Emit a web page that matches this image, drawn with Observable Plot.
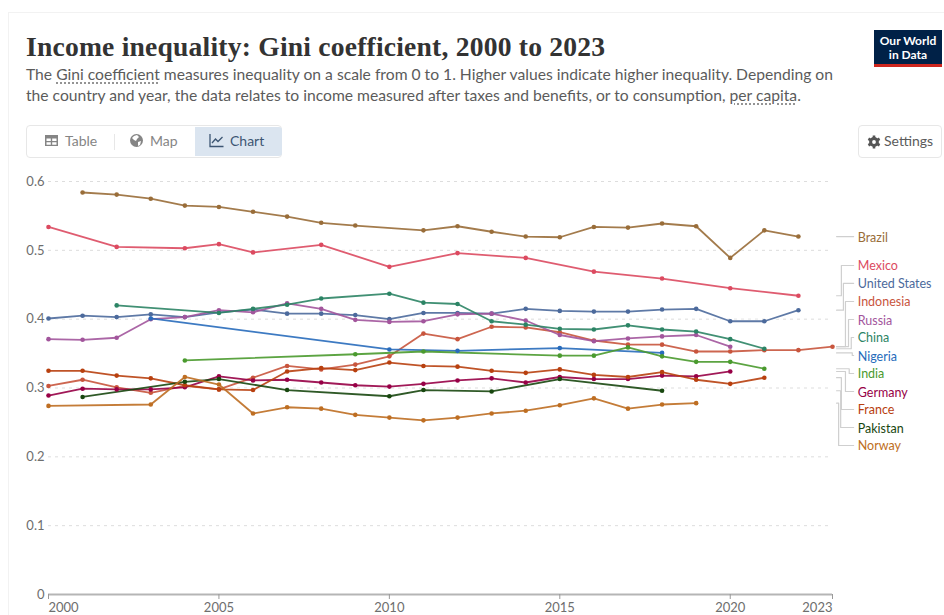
<!DOCTYPE html>
<html>
<head>
<meta charset="utf-8">
<script src="https://cdn.jsdelivr.net/npm/d3@7"></script>
<script src="https://cdn.jsdelivr.net/npm/@observablehq/plot@0.6"></script>
<style>
html,body{margin:0;padding:0;background:#fff;width:944px;height:615px;overflow:hidden;font-family:Lato,sans-serif}
#frame{position:absolute;left:8px;top:12px;width:936px;height:603px;border-top:1px solid #f2f2f2;border-left:1px solid #f2f2f2;box-sizing:border-box}
#title{position:absolute;left:26px;top:31px;font:bold 27.6px "Liberation Serif",serif;color:#333;white-space:nowrap;letter-spacing:.2px}
#sub{position:absolute;left:26px;top:64px;font-size:15.66px;line-height:21px;color:#5b5b5b;white-space:nowrap}
#sub u{text-decoration:underline dotted #777;text-underline-offset:3px}
#logo{position:absolute;left:874px;top:30px;width:68px;height:37px;background:#002147;border-bottom:3px solid #ce261e;box-sizing:border-box;color:#fff;font-size:12px;font-weight:700;line-height:13.5px;text-align:center;padding-top:4px}
#tabs{position:absolute;left:26px;top:125px;width:256px;height:33px;border:1px solid #e7e7e7;border-radius:4px;box-sizing:border-box}
#active{position:absolute;left:168px;top:1px;width:87px;height:29px;background:#dbe5f0;border-radius:0 3px 3px 0}
#sep{position:absolute;left:87px;top:8px;width:1px;height:16px;background:#e7e7e7}
.tab{position:absolute;top:0;line-height:29px;font-size:14px;color:#858585;white-space:nowrap}
.tab svg,#settings svg{position:absolute;top:7px;left:-21px}
#settings{position:absolute;left:858px;top:125px;width:84px;height:33px;border:1px solid #e7e7e7;border-radius:4px;box-sizing:border-box;font-size:14px;line-height:29px;color:#5b5b5b}
#settings span{position:absolute;left:25px}
#settings svg{left:8px;top:9px}
#chart{position:absolute;left:0;top:170px;width:944px;height:445px}
#chart svg{overflow:visible;display:block}
</style>
</head>
<body>
<div id="frame"></div>
<div id="title">Income inequality: Gini coefficient, 2000 to 2023</div>
<div id="sub">The <u>Gini coefficient</u> measures inequality on a scale from 0 to 1. Higher values indicate higher inequality. Depending on<br>the country and year, the data relates to income measured after taxes and benefits, or to consumption, <u>per capita</u>.</div>
<div id="logo">Our World<br>in Data</div>
<div id="tabs">
  <div id="active"></div><div id="sep"></div>
  <div class="tab" style="left:38px"><svg width="15" height="15" viewBox="0 0 15 15"><path fill="#858585" d="M1 2h13v11H1zM2.500 5.500v2.500h4.300V5.500zm5.700 0v2.500h4.300V5.500zM2.500 9.300v2.400h4.300V9.300zm5.700 0v2.400h4.300V9.300z" fill-rule="evenodd"/></svg>Table</div>
  <div class="tab" style="left:123px"><svg width="15" height="15" viewBox="0 0 15 15"><circle cx="7.500" cy="7.500" r="6.500" fill="#858585"/><path fill="#fff" d="M5 3l3-1 2 2-2 2-1 2-2-1-2-2zM9 9l3-1-1 4-2 1z"/></svg>Map</div>
  <div class="tab" style="left:203px;color:#3d5673"><svg width="15" height="15" viewBox="0 0 15 15"><path fill="none" stroke="#3d5673" stroke-width="1.300" d="M1 1v12.500h13.500M3 10l3.500-4 2.500 2.500L13.500 4"/></svg>Chart</div>
</div>
<div id="settings"><svg width="14" height="14" viewBox="0 0 14 14"><circle cx="7" cy="7" r="3.400" fill="none" stroke="#555" stroke-width="3"/><path stroke="#555" stroke-width="2.600" d="M7 .5v2.500M7 11v2.500M1.400 3.750l2.200 1.250M10.400 9l2.200 1.250M1.400 10.250l2.200-1.250M10.400 5l2.200-1.250"/></svg><span>Settings</span></div>
<div id="chart"></div>
<script>
const brazilYears = [2001,2002,2003,2004,2005,2006,2007,2008,2009,2011,2012,2013,2014,2015,2016,2017,2018,2019,2020,2021,2022];
const brazilGini = [.584,.581,.575,.565,.563,.556,.549,.540,.536,.529,.535,.527,.520,.519,.534,.533,.539,.535,.489,.529,.520];
const mexicoYears = [2000,2002,2004,2005,2006,2008,2010,2012,2014,2016,2018,2020,2022];
const mexicoGini = [.534,.505,.503,.509,.497,.508,.476,.496,.489,.469,.459,.445,.434];
const usYears = [2000,2001,2002,2003,2004,2005,2006,2007,2008,2009,2010,2011,2012,2013,2014,2015,2016,2017,2018,2019,2020,2021,2022];
const usGini = [.401,.405,.403,.407,.403,.410,.414,.408,.408,.406,.400,.409,.409,.408,.415,.412,.411,.411,.414,.415,.397,.397,.413];
const indonesiaYears = [2000,2001,2002,2003,2004,2005,2006,2007,2008,2009,2010,2011,2012,2013,2014,2015,2016,2017,2018,2019,2020,2021,2022,2023];
const indonesiaGini = [.303,.312,.301,.293,.303,.298,.315,.332,.327,.334,.346,.379,.371,.389,.388,.381,.369,.363,.363,.353,.353,.355,.355,.360];
const russiaYears = [2000,2001,2002,2003,2004,2005,2006,2007,2008,2009,2010,2011,2012,2013,2014,2015,2016,2017,2018,2019,2020];
const russiaGini = [.371,.370,.373,.400,.403,.413,.410,.423,.415,.399,.396,.397,.407,.408,.398,.377,.368,.372,.375,.377,.360];
const chinaYears = [2002,2005,2006,2007,2008,2010,2011,2012,2013,2014,2015,2016,2017,2018,2019,2020,2021];
const chinaGini = [.420,.409,.415,.421,.430,.437,.424,.422,.397,.392,.386,.385,.391,.385,.382,.371,.357];
const nigeriaYears = [2003,2010,2012,2015,2018];
const nigeriaGini = [.401,.356,.354,.358,.351];
const indiaYears = [2004,2009,2011,2015,2016,2017,2018,2019,2020,2021];
const indiaGini = [.340,.349,.353,.347,.347,.359,.346,.338,.338,.328];
const germanyYears = [2000,2001,2002,2003,2004,2005,2006,2007,2008,2009,2010,2011,2012,2013,2014,2015,2016,2017,2018,2019,2020];
const germanyGini = [.289,.299,.298,.298,.301,.317,.311,.312,.308,.304,.302,.306,.311,.314,.308,.316,.313,.313,.318,.317,.324];
const franceYears = [2000,2001,2002,2003,2004,2005,2006,2007,2008,2009,2010,2011,2012,2013,2014,2015,2016,2017,2018,2019,2020,2021];
const franceGini = [.325,.325,.318,.314,.304,.298,.297,.324,.329,.326,.337,.332,.331,.325,.322,.327,.319,.316,.323,.312,.306,.315];
const pakistanYears = [2001,2004,2005,2007,2010,2011,2013,2015,2018];
const pakistanGini = [.287,.309,.313,.297,.288,.297,.295,.313,.296];
const norwayYears = [2000,2003,2004,2005,2006,2007,2008,2009,2010,2011,2012,2013,2014,2015,2016,2017,2018,2019];
const norwayGini = [.274,.276,.316,.305,.263,.272,.270,.261,.257,.253,.257,.263,.267,.275,.285,.270,.276,.278];

const countries = ["Brazil","Mexico","United States","Indonesia","Russia","China","Nigeria","India","Germany","France","Pakistan","Norway"];
const countryYears = [brazilYears,mexicoYears,usYears,indonesiaYears,russiaYears,chinaYears,nigeriaYears,indiaYears,germanyYears,franceYears,pakistanYears,norwayYears];
const countryGini = [brazilGini,mexicoGini,usGini,indonesiaGini,russiaGini,chinaGini,nigeriaGini,indiaGini,germanyGini,franceGini,pakistanGini,norwayGini];
const countryColors = ["#996D39","#DC4A60","#4C6A9C","#C8553D","#A2559C","#2C8465","#286BBB","#4A9A2E","#970046","#B8400F","#18470F","#BE6E22"];
// where each label sits in the stacked label column, in y-axis units
const labelLevels = [.5187,.478,.452,.4257,.3995,.3734,.3472,.3211,.2949,.2688,.2426,.2165];
// x position of each connector's vertical run, in years past the axis start
const elbowYears = [2023.35,2023.26,2023.32,2023.38,2023.47,2023.55,2023.58,2023.49,2023.38,2023.26,2023.24,2023.18];
const yTicks = [0,.1,.2,.3,.4,.5,.6];
const xTicksMiddle = [2005,2010,2015,2020];

const points = countries.flatMap((c,i)=>countryYears[i].map((year,k)=>({country:c,year,gini:countryGini[i][k]})));
const colorOf = new Map(countries.map((c,i)=>[c,countryColors[i]]));
const labels = countries.map((c,i)=>({country:c,last:countryGini[i][countryGini[i].length-1],level:labelLevels[i],elbow:elbowYears[i]}));
const connectors = labels.flatMap(d=>(d.country==="Brazil"
  ? [[2023.12,d.last],[2023.62,d.last]]
  : [[2023.12,d.last],[d.elbow,d.last],[d.elbow,d.level],[2023.62,d.level]]
).map(([x,y])=>({country:d.country,x,y})));

const xAxisOpts = {anchor:"bottom",tickSize:5,tickPadding:3,fontSize:13,color:"#6e6e6e",stroke:"#999",tickFormat:d=>String(d)};
const plot = Plot.plot({
  width:944,height:445,
  marginLeft:48,marginRight:112,marginTop:11,marginBottom:21,
  style:{fontFamily:"Lato, sans-serif",background:"transparent",overflow:"visible"},
  x:{type:"linear",domain:[2000,2023],axis:null},
  y:{type:"linear",domain:[0,.6],axis:null},
  marks:[
    Plot.ruleY(yTicks.filter(d=>d>0),{stroke:"#dddddd",strokeDasharray:"3,4"}),
    Plot.ruleY([0],{stroke:"#b5b5b5",strokeWidth:2}),
    Plot.axisY(yTicks,{anchor:"left",tickSize:0,tickPadding:4,fontSize:13,color:"#6e6e6e",tickFormat:d=>d===0?"0":d3.format(".1f")(d)}),
    Plot.axisX(xTicksMiddle,xAxisOpts),
    Plot.axisX([2000],{...xAxisOpts,textAnchor:"start"}),
    Plot.axisX([2023],{...xAxisOpts,textAnchor:"end"}),
    Plot.line(connectors,{x:"x",y:"y",z:"country",stroke:"#cfcfcf",strokeWidth:1.2}),
    ...countries.map(c=>Plot.line(points.filter(d=>d.country===c),{x:"year",y:"gini",stroke:"#fff",strokeWidth:3.5,strokeOpacity:.7})),
    ...countries.map(c=>Plot.line(points.filter(d=>d.country===c),{x:"year",y:"gini",stroke:colorOf.get(c),strokeWidth:1.8,strokeOpacity:.9})),
    ...countries.map(c=>Plot.dot(points.filter(d=>d.country===c),{x:"year",y:"gini",fill:colorOf.get(c),r:2.3})),
    Plot.text(labels,{x:()=>2023.74,y:"level",dy:1,text:"country",fill:d=>colorOf.get(d.country),textAnchor:"start",fontSize:12.5})
  ]
});
document.getElementById("chart").append(plot);
</script>
</body>
</html>
